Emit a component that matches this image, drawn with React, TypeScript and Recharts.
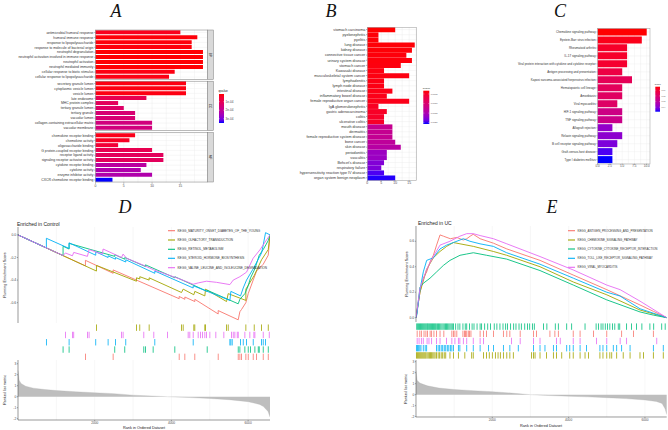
import React from 'react';
import {
  BarChart, Bar, XAxis, YAxis, CartesianGrid, Cell,
  LineChart, Line, ScatterChart, Scatter, AreaChart, Area,
} from 'recharts';

const FONT = '"Liberation Sans", Arial, sans-serif';
const TXT = '#4d4d4d';

// ---------------- Panel A (GO) ----------------
const aBPNames = ['antimicrobial humoral response', 'humoral immune response', 'response to lipopolysaccharide', 'response to molecule of bacterial origin', 'neutrophil degranulation', 'neutrophil activation involved in immune response', 'neutrophil activation', 'neutrophil mediated immunity', 'cellular response to biotic stimulus', 'cellular response to lipopolysaccharide'];
const aBPCounts = [15, 18, 17, 17, 19, 19, 19, 19, 14, 13];
const aBPQ = [3.0e-5, 1.5e-5, 1.6e-5, 1.6e-5, 1.2e-5, 1.2e-5, 1.2e-5, 1.2e-5, 2.0e-5, 2.2e-5];

const aCCNames = ['secretory granule lumen', 'cytoplasmic vesicle lumen', 'vesicle lumen', 'late endosome', 'MHC protein complex', 'tertiary granule lumen', 'tertiary granule', 'vacuolar lumen', 'collagen-containing extracellular matrix', 'vacuolar membrane'];
const aCCCounts = [16, 16, 16, 9, 4, 5, 7, 7, 10, 10];
const aCCQ = [2.0e-5, 2.0e-5, 2.0e-5, 9.5e-5, 1.12e-4, 1.29e-4, 1.46e-4, 1.46e-4, 1.63e-4, 1.63e-4];

const aMFNames = ['chemokine receptor binding', 'chemokine activity', 'oligosaccharide binding', 'G protein-coupled receptor binding', 'receptor ligand activity', 'signaling receptor activator activity', 'cytokine receptor binding', 'cytokine activity', 'enzyme inhibitor activity', 'CXCR chemokine receptor binding'];
const aMFCounts = [7, 6, 4, 10, 12, 12, 9, 8, 10, 3];
const aMFQ = [2.7e-5, 3.7e-5, 6.1e-5, 9.5e-5, 1.12e-4, 1.12e-4, 2.14e-4, 2.31e-4, 2.31e-4, 3.5e-4];

const aQDomain = [1e-5, 3.5e-4];
const aLegendTicks = [1e-4, 2e-4, 3e-4];
const aLegendLabels = ['1e-04', '2e-04', '3e-04'];
const aXTicks = [0, 5, 10, 15];

// ---------------- Panel B (DO) ----------------
const bNames = ['stomach carcinoma', 'pyelonephritis', 'pyelitis', 'lung disease', 'kidney disease', 'connective tissue cancer', 'urinary system disease', 'stomach cancer', 'Kawasaki disease', 'musculoskeletal system cancer', 'lymphadenitis', 'lymph node disease', 'intestinal disease', 'inflammatory bowel disease', 'female reproductive organ cancer', 'IgA glomerulonephritis', 'gastric adenocarcinoma', 'colitis', 'ulcerative colitis', 'mouth disease', 'dermatitis', 'female reproductive system disease', 'bone cancer', 'skin disease', 'periodontitis', 'vasculitis', "Behcet's disease", 'respiratory failure', 'hypersensitivity reaction type IV disease', 'organ system benign neoplasm'];
const bCounts = [10, 4, 4, 17, 16, 14, 16, 12, 6, 15, 6, 6, 9, 7, 15, 4, 7, 6, 6, 9, 9, 9, 10, 12, 7, 7, 6, 5, 6, 10];
const bQ = [3.3e-4, 3.5e-4, 3.5e-4, 3.5e-4, 3.5e-4, 3.6e-4, 3.6e-4, 3.7e-4, 3.8e-4, 3.8e-4, 3.9e-4, 3.9e-4, 4.0e-4, 4.1e-4, 4.1e-4, 4.6e-4, 4.8e-4, 5.0e-4, 5.0e-4, 1.25e-3, 1.26e-3, 1.27e-3, 1.33e-3, 1.40e-3, 1.62e-3, 1.63e-3, 1.78e-3, 1.80e-3, 1.98e-3, 2.05e-3];
const bQDomain = [3.3e-4, 2.07e-3];
const bLegendTicks = [0.0005, 0.001, 0.0015, 0.002];
const bLegendLabels = ['0.0005', '0.0010', '0.0015', '0.0020'];
const bXTicks = [0, 5, 10, 15];

// ---------------- Panel C (KEGG) ----------------
const cNames = ['Chemokine signaling pathway', 'Epstein-Barr virus infection', 'Rheumatoid arthritis', 'IL-17 signaling pathway', 'Viral protein interaction with cytokine and cytokine receptor', 'Antigen processing and presentation', 'Kaposi sarcoma-associated herpesvirus infection', 'Hematopoietic cell lineage', 'Amoebiasis', 'Viral myocarditis', 'HIF-1 signaling pathway', 'TNF signaling pathway', 'Allograft rejection', 'Relaxin signaling pathway', 'B cell receptor signaling pathway', 'Graft-versus-host disease', 'Type I diabetes mellitus'];
const cCounts = [10, 9, 6, 6, 6, 5, 7, 5, 5, 4, 5, 5, 3, 5, 4, 3, 3];
const cQ = [0.0036, 0.0058, 0.008, 0.008, 0.0089, 0.0125, 0.016, 0.0169, 0.0178, 0.0187, 0.0249, 0.0258, 0.0382, 0.0391, 0.0413, 0.0458, 0.048];
const cQDomain = [0.0036, 0.048];
const cLegendTicks = [0.01, 0.02, 0.03, 0.04];
const cLegendLabels = ['0.01', '0.02', '0.03', '0.04'];
const cXTicks = [0, 2.5, 5, 7.5, 10];

// ---------------- Panel D (GSEA, Control) ----------------
const N_GENES = 6570;
const rankTicks = [2000, 4000, 6000];
const rankGrid = [1000, 2000, 3000, 4000, 5000, 6000];

const dNames = ['KEGG_MATURITY_ONSET_DIABETES_OF_THE_YOUNG', 'KEGG_OLFACTORY_TRANSDUCTION', 'KEGG_RETINOL_METABOLISM', 'KEGG_STEROID_HORMONE_BIOSYNTHESIS', 'KEGG_VALINE_LEUCINE_AND_ISOLEUCINE_DEGRADATION'];
const dRedES = [[0, 0], [1758, -0.274], [1758, -0.225], [2480, -0.34], [2480, -0.31], [4202, -0.565], [4202, -0.545], [4350, -0.57], [4350, -0.55], [4610, -0.59], [4610, -0.57], [5219, -0.70], [5219, -0.67], [5741, -0.752], [5785, -0.68], [5828, -0.66], [5941, -0.60], [6002, -0.52], [6132, -0.40], [6219, -0.32], [6393, -0.26], [6524, -0.18], [6570, 0]];
const dOliveES = [[0, 0], [2045, -0.32], [2045, -0.27], [3088, -0.41], [3088, -0.38], [3175, -0.39], [3175, -0.37], [3419, -0.40], [3419, -0.38], [4263, -0.51], [4306, -0.48], [4584, -0.53], [4610, -0.50], [4871, -0.54], [4889, -0.48], [5437, -0.59], [5480, -0.52], [5941, -0.58], [5941, -0.48], [6158, -0.36], [6350, -0.22], [6524, -0.13], [6570, 0]];
const dGreenES = [[0, 0], [1175, -0.183], [1175, -0.10], [1332, -0.125], [1332, -0.075], [2523, -0.19], [2523, -0.175], [2784, -0.215], [2784, -0.20], [3323, -0.28], [3323, -0.265], [4089, -0.38], [4089, -0.37], [4932, -0.50], [4932, -0.49], [5741, -0.61], [5785, -0.57], [5915, -0.52], [6002, -0.45], [6063, -0.38], [6176, -0.30], [6289, -0.18], [6393, -0.13], [6524, -0.05], [6570, 0]];
const dBlueES = [[0, 0], [740, -0.115], [740, -0.03], [1332, -0.12], [1332, -0.07], [2027, -0.18], [2027, -0.15], [2349, -0.20], [2349, -0.185], [2541, -0.215], [2541, -0.20], [2810, -0.24], [2810, -0.22], [3567, -0.34], [3567, -0.32], [4567, -0.47], [4567, -0.45], [5524, -0.58], [5550, -0.50], [5802, -0.54], [5872, -0.47], [5958, -0.40], [6132, -0.30], [6350, -0.16], [6393, -0.09], [6454, 0.02], [6570, 0]];
const dVioletES = [[0, 0], [1175, -0.183], [1236, -0.16], [1419, -0.185], [1453, -0.155], [1810, -0.19], [1853, -0.13], [2200, -0.17], [2219, -0.125], [2697, -0.20], [2740, -0.17], [2828, -0.206], [3280, -0.27], [3541, -0.31], [4219, -0.39], [4567, -0.437], [4700, -0.425], [4915, -0.41], [5176, -0.42], [5524, -0.44], [5611, -0.40], [5785, -0.37], [5958, -0.33], [6132, -0.206], [6306, -0.133], [6480, -0.044], [6570, 0]];

const dRedHits = [1758, 2480, 4202, 4350, 4610, 5219, 5741, 5785, 5828, 5941, 6002, 6132, 6219, 6393, 6524];
const dOliveHits = [2045, 3088, 3175, 3419, 4263, 4306, 4584, 4610, 4871, 4889, 5437, 5480, 5941, 6158, 6350, 6524];
const dGreenHits = [1175, 1332, 2523, 2784, 3280, 3323, 3523, 4089, 4932, 5741, 5785, 5915, 6002, 6063, 6176, 6263, 6289, 6393, 6524];
const dBlueHits = [740, 1332, 2027, 2349, 2541, 2810, 3567, 4567, 5524, 5550, 5584, 5802, 5872, 5958, 6132, 6350, 6393, 6454];
const dVioletHits = [1236, 1419, 1453, 1810, 1853, 2697, 2740, 3280, 3541, 3897, 4436, 4480, 4567, 4697, 4758, 4810, 4871, 4915, 5002, 5158, 5367, 5567, 5611, 5654, 5715, 5741, 5915, 6045, 6150, 6176, 6393, 6550];

const dRankedRanks = [0, 30, 80, 200, 400, 700, 1000, 1500, 2000, 2500, 3000, 3500, 3900, 4500, 5000, 5500, 6000, 6300, 6400, 6520, 6570];
const dRankedMetric = [2.4, 1.5, 1.2, 0.95, 0.78, 0.65, 0.56, 0.45, 0.36, 0.28, 0.14, 0.06, 0, -0.08, -0.16, -0.27, -0.45, -0.7, -0.9, -1.35, -1.85];

// ---------------- Panel E (GSEA, UC) ----------------
const eNames = ['KEGG_ANTIGEN_PROCESSING_AND_PRESENTATION', 'KEGG_CHEMOKINE_SIGNALING_PATHWAY', 'KEGG_CYTOKINE_CYTOKINE_RECEPTOR_INTERACTION', 'KEGG_TOLL_LIKE_RECEPTOR_SIGNALING_PATHWAY', 'KEGG_VIRAL_MYOCARDITIS'];
const eRedES = [[0, 0], [105, 0.20], [190, 0.31], [280, 0.36], [370, 0.44], [455, 0.49], [540, 0.57], [630, 0.65], [720, 0.64], [900, 0.62], [1070, 0.63], [1240, 0.61], [1330, 0.62], [1420, 0.64], [1500, 0.655], [1680, 0.62], [2030, 0.585], [2380, 0.54], [3250, 0.45], [4120, 0.335], [5000, 0.22], [5870, 0.1], [6220, 0.05], [6570, 0]];
const eOliveES = [[0, 0], [105, 0.20], [280, 0.38], [454, 0.47], [629, 0.52], [804, 0.56], [980, 0.59], [1153, 0.58], [1503, 0.56], [2027, 0.52], [2377, 0.49], [3250, 0.40], [4124, 0.28], [4998, 0.18], [5871, 0.06], [6570, 0]];
const eGreenES = [[0, 0], [20, 0.03], [105, 0.24], [192, 0.27], [367, 0.31], [542, 0.36], [716, 0.41], [891, 0.45], [1153, 0.49], [1328, 0.50], [1503, 0.51], [1852, 0.49], [2377, 0.46], [3250, 0.37], [4124, 0.256], [4998, 0.14], [5871, 0.045], [6221, 0.02], [6570, 0]];
const eBlueES = [[0, 0], [20, 0.02], [105, 0.22], [192, 0.36], [280, 0.45], [454, 0.47], [629, 0.54], [804, 0.57], [979, 0.59], [1153, 0.61], [1241, 0.62], [1415, 0.60], [1678, 0.58], [2027, 0.56], [2377, 0.51], [3250, 0.42], [4124, 0.31], [4998, 0.20], [5347, 0.17], [5871, 0.07], [6570, 0]];
const eVioletES = [[0, 0], [105, 0.23], [190, 0.30], [280, 0.38], [454, 0.48], [630, 0.57], [890, 0.60], [1150, 0.64], [1330, 0.66], [1500, 0.66], [1680, 0.645], [2030, 0.62], [2380, 0.58], [3250, 0.48], [4120, 0.375], [5000, 0.256], [5350, 0.22], [5870, 0.13], [6570, 0]];

const eGreenHits = [20, 45, 70, 95, 120, 140, 165, 190, 215, 240, 265, 290, 310, 335, 360, 385, 410, 430, 455, 480, 505, 530, 560, 590, 620, 650, 680, 710, 740, 770, 800, 830, 860, 890, 920, 950, 980, 1040, 1100, 1150, 1230, 1290, 1330, 1400, 1470, 1520, 1600, 1680, 1720, 1800, 1880, 1950, 2050, 2120, 2200, 2280, 2350, 2400, 2480, 2560, 2620, 2700, 2760, 2850, 2920, 2980, 3050, 3100, 3340, 3430, 3650, 3730, 3950, 4080, 4430, 4720, 4780, 4850, 4900, 4960, 5020, 5080, 5150, 5210, 5300, 5340, 5520, 5650, 5780, 5920, 6130, 6230, 6440, 6530];
const eRedHits = [30, 100, 140, 210, 260, 300, 370, 410, 470, 540, 630, 730, 940, 980, 1020, 1070, 1230, 1270, 1300, 1330, 1370, 1400, 1440, 1680, 1770, 1850, 2030, 2290, 2380, 2460, 2730, 3080, 3160, 3510, 3640, 3730, 4120, 4300, 4650, 5000, 5390, 5700, 6220];
const eVioletHits = [30, 80, 140, 190, 290, 340, 410, 540, 630, 800, 940, 1020, 1110, 1150, 1240, 1330, 1500, 1680, 1770, 2500, 2730, 3080, 3250, 3680, 3780, 4120, 4300, 4730, 5000, 5350, 5520, 6310];
const eBlueHits = [10, 40, 70, 100, 130, 190, 240, 280, 540, 580, 620, 660, 700, 740, 780, 820, 860, 900, 940, 980, 1110, 1150, 1330, 1500, 1680, 1900, 2030, 2290, 2460, 2680, 3080, 3250, 3380, 3600, 3680, 3950, 4030, 4120, 4300, 4470, 4820, 4900, 5000, 5170, 5260, 5390, 5610, 6220, 6480];
const eOliveHits = [10, 35, 60, 85, 110, 135, 160, 185, 210, 235, 260, 290, 320, 350, 380, 410, 440, 470, 500, 540, 580, 620, 660, 700, 740, 780, 890, 980, 1110, 1280, 1460, 1500, 1770, 1850, 1920, 2000, 2080, 2150, 2210, 2290, 2380, 2460, 2550, 3030, 3080, 3120, 3250, 3420, 3600, 3680, 3820, 4030, 4120, 4300, 4430, 4520, 4820, 4900, 5000, 5080, 5130, 5260, 5430, 5610, 5870, 5960, 6220, 6480];

const eRankedRanks = [0, 30, 100, 300, 600, 1000, 1500, 2000, 2500, 3000, 3500, 4000, 4500, 5000, 5500, 6000, 6300, 6450, 6530, 6570];
const eRankedMetric = [2.2, 1.3, 1.05, 0.8, 0.6, 0.47, 0.36, 0.27, 0.14, 0, -0.08, -0.14, -0.2, -0.27, -0.36, -0.48, -0.62, -0.8, -1.3, -1.8];

const esTicksD = [-0.6, -0.4, -0.2, 0];
const esTicksE = [0, 0.2, 0.4, 0.6];
const metricTicks = [-2, -1, 0, 1, 2, 3];

const C_RED = '#F8766D', C_OLIVE = '#A3A500', C_GREEN = '#00BF7D', C_BLUE = '#00B0F6', C_VIOLET = '#E76BF3';

// ---------------- colour scale (Lab interpolation red -> blue) ----------------
const toLin = (c: number) => { c /= 255; return c <= 0.04045 ? c / 12.92 : Math.pow((c + 0.055) / 1.055, 2.4); };
const fromLin = (c: number) => { const v = c <= 0.0031308 ? 12.92 * c : 1.055 * Math.pow(c, 1 / 2.4) - 0.055; return Math.round(Math.min(1, Math.max(0, v)) * 255); };
function rgb2lab(r: number, g: number, b: number) {
  const R = toLin(r), G = toLin(g), B = toLin(b);
  const X = (0.4124 * R + 0.3576 * G + 0.1805 * B) / 0.95047;
  const Y = 0.2126 * R + 0.7152 * G + 0.0722 * B;
  const Z = (0.0193 * R + 0.1192 * G + 0.9505 * B) / 1.08883;
  const f = (t: number) => (t > 0.008856 ? Math.cbrt(t) : 7.787 * t + 16 / 116);
  const fx = f(X), fy = f(Y), fz = f(Z);
  return [116 * fy - 16, 500 * (fx - fy), 200 * (fy - fz)];
}
function lab2hex(L: number, a: number, b: number) {
  const fy = (L + 16) / 116, fx = fy + a / 500, fz = fy - b / 200;
  const fi = (t: number) => { const t3 = t * t * t; return t3 > 0.008856 ? t3 : (t - 16 / 116) / 7.787; };
  const X = fi(fx) * 0.95047, Y = fi(fy), Z = fi(fz) * 1.08883;
  const R = 3.2406 * X - 1.5372 * Y - 0.4986 * Z;
  const G = -0.9689 * X + 1.8758 * Y + 0.0415 * Z;
  const B = 0.0557 * X - 0.204 * Y + 1.057 * Z;
  return '#' + [R, G, B].map((v) => fromLin(v).toString(16).padStart(2, '0')).join('');
}
const LAB_LO = rgb2lab(255, 0, 0);
const LAB_HI = rgb2lab(0, 0, 255);
function gradColor(t: number) {
  const u = Math.max(0, Math.min(1, t));
  return lab2hex(LAB_LO[0] + u * (LAB_HI[0] - LAB_LO[0]), LAB_LO[1] + u * (LAB_HI[1] - LAB_LO[1]), LAB_LO[2] + u * (LAB_HI[2] - LAB_LO[2]));
}
const qColor = (q: number, dom: number[]) => gradColor((q - dom[0]) / (dom[1] - dom[0]));

// category tick that never wraps
const catTick = (size: number) => (p: any) => (
  <text x={p.x} y={p.y} textAnchor="end" dy="0.35em" fontSize={size} fill="#333" fontFamily={FONT}>{p.payload.value}</text>
);

// ---------------- components ----------------
function HBarPanel(props: any) {
  const { left, top, width, axisW, plotH, showX, names, counts, qs, qDom, xDom, xTicks, xGrid, xFmt, labelSize, tickSize } = props;
  const data = names.map((n: string, i: number) => ({ name: n, count: counts[i], q: qs[i] }));
  const xH = showX ? 7.5 : 0;
  return (
    <div style={{ position: 'absolute', left, top, width, height: plotH + xH }}>
      <BarChart width={width} height={plotH + xH} data={data} layout="vertical" margin={{ top: 0, right: 0, bottom: 0, left: 0 }} barCategoryGap="5%">
        <CartesianGrid stroke="#EBEBEB" strokeWidth={0.4} verticalValues={xGrid} />
        <XAxis type="number" domain={xDom} ticks={xTicks} hide={!showX} height={xH || 1} tickFormatter={xFmt}
          tick={{ fontSize: tickSize, fill: TXT, fontFamily: FONT }} tickSize={1.2} tickMargin={0.4} axisLine={false}
          tickLine={{ stroke: '#333', strokeWidth: 0.4 }} interval={0} />
        <YAxis type="category" dataKey="name" width={axisW} interval={0}
          tick={catTick(labelSize)} tickSize={1.2} tickMargin={0.8} axisLine={false}
          tickLine={{ stroke: '#333', strokeWidth: 0.4 }} />
        <Bar dataKey="count" isAnimationActive={false}>
          {data.map((d: any, i: number) => <Cell key={i} fill={qColor(d.q, qDom)} />)}
        </Bar>
      </BarChart>
    </div>
  );
}

function EsPanel(props: any) {
  const { left, top, width, axisW, height, series, yDom, yTicks } = props;
  return (
    <div style={{ position: 'absolute', left, top, width, height }}>
      <LineChart width={width} height={height} margin={{ top: 0, right: 0, bottom: 0, left: 0 }}>
        <CartesianGrid stroke="#EBEBEB" strokeWidth={0.4} horizontal={false} verticalValues={rankGrid} />
        <XAxis type="number" dataKey="rank" domain={[0, N_GENES]} hide allowDataOverflow />
        <YAxis type="number" domain={yDom} ticks={yTicks} width={axisW} allowDataOverflow
          tickFormatter={(v: number) => v.toFixed(1)} tick={{ fontSize: 3.4, fill: TXT, fontFamily: FONT }}
          tickSize={1.2} tickMargin={0.6} axisLine={{ stroke: '#333', strokeWidth: 0.5 }} tickLine={{ stroke: '#333', strokeWidth: 0.4 }} />
        {series.map((s: any) => (
          <Line key={s.name} data={s.es.map((p: number[]) => ({ rank: p[0], es: p[1] }))} dataKey="es" type="linear"
            stroke={s.color} strokeWidth={0.9} dot={false} isAnimationActive={false} />
        ))}
      </LineChart>
    </div>
  );
}

function HitsPanel(props: any) {
  const { left, top, width, plotLeft, height, series } = props;
  return (
    <div style={{ position: 'absolute', left, top, width, height }}>
      <ScatterChart width={width} height={height} margin={{ top: 0, right: 0, bottom: 0, left: plotLeft }}>
        <XAxis type="number" dataKey="rank" domain={[0, N_GENES]} hide />
        <YAxis type="number" dataKey="row" domain={[0, 5]} hide />
        {series.map((s: any) => (
          <Scatter key={s.name} data={s.hits.map((r: number) => ({ rank: r, row: s.row }))} isAnimationActive={false}
            shape={(p: any) => <rect x={p.cx - 0.4} y={p.cy - 3.2} width={0.8} height={6.4} fill={s.color} />} />
        ))}
      </ScatterChart>
    </div>
  );
}

function RankedPanel(props: any) {
  const { left, top, width, axisW, plotH, ranks, metric, yDom } = props;
  const data = ranks.map((r: number, i: number) => ({ rank: r, metric: metric[i] }));
  return (
    <div style={{ position: 'absolute', left, top, width, height: plotH + 8 }}>
      <AreaChart width={width} height={plotH + 8} data={data} margin={{ top: 0, right: 0, bottom: 0, left: 0 }}>
        <CartesianGrid stroke="#EBEBEB" strokeWidth={0.4} horizontal={false} verticalValues={rankGrid} />
        <XAxis type="number" dataKey="rank" domain={[0, N_GENES]} ticks={rankTicks} height={8} interval={0}
          tick={{ fontSize: 3.2, fill: TXT, fontFamily: FONT }} tickSize={1.2} tickMargin={0.4}
          axisLine={{ stroke: '#333', strokeWidth: 0.5 }} tickLine={{ stroke: '#333', strokeWidth: 0.4 }} />
        <YAxis type="number" domain={yDom} ticks={metricTicks} width={axisW} allowDataOverflow interval={0}
          tick={{ fontSize: 3.2, fill: TXT, fontFamily: FONT }} tickSize={1.2} tickMargin={0.6}
          axisLine={{ stroke: '#333', strokeWidth: 0.5 }} tickLine={{ stroke: '#333', strokeWidth: 0.4 }} />
        <Area dataKey="metric" type="linear" fill="#BEBEBE" fillOpacity={1} stroke="#B0B0B0" strokeWidth={0.3} isAnimationActive={false} />
      </AreaChart>
    </div>
  );
}

function ColorBar(props: any) {
  const { id, x, y, w, h, dom, ticks, labels, title, titleSize, labelSize } = props;
  const stops = [0, 0.1, 0.2, 0.3, 0.4, 0.5, 0.6, 0.7, 0.8, 0.9, 1];
  return (
    <g>
      <defs>
        <linearGradient id={id} x1="0" y1="0" x2="0" y2="1">
          {stops.map((s) => <stop key={s} offset={s} stopColor={gradColor(s)} />)}
        </linearGradient>
      </defs>
      <text x={x - 0.5} y={y - 2} fontSize={titleSize} fill="#222" fontFamily={FONT}>{title}</text>
      <rect x={x} y={y} width={w} height={h} fill={`url(#${id})`} />
      {ticks.map((t: number, i: number) => {
        const ty = y + ((t - dom[0]) / (dom[1] - dom[0])) * h;
        return (
          <g key={i}>
            <line x1={x} x2={x + w * 0.2} y1={ty} y2={ty} stroke="#fff" strokeWidth={0.3} />
            <line x1={x + w * 0.8} x2={x + w} y1={ty} y2={ty} stroke="#fff" strokeWidth={0.3} />
            <text x={x + w + 1.5} y={ty} dy="0.35em" fontSize={labelSize} fill={TXT} fontFamily={FONT}>{labels[i]}</text>
          </g>
        );
      })}
    </g>
  );
}

function GseaLegend(props: any) {
  const { x, ys, series, size } = props;
  return (
    <g>
      {series.map((s: any, i: number) => (
        <g key={s.name}>
          <line x1={x} x2={x + 7} y1={ys[i]} y2={ys[i]} stroke={s.color} strokeWidth={1.1} />
          <text x={x + 9.5} y={ys[i]} dy="0.35em" fontSize={size} fill="#333" fontFamily={FONT}>{s.name}</text>
        </g>
      ))}
    </g>
  );
}

export default function App() {
  const aFacets = [
    { label: 'BP', names: aBPNames, counts: aBPCounts, qs: aBPQ, top: 30 },
    { label: 'CC', names: aCCNames, counts: aCCCounts, qs: aCCQ, top: 81.2 },
    { label: 'MF', names: aMFNames, counts: aMFCounts, qs: aMFQ, top: 132.5 },
  ];
  const facetH = 49.5;
  const dSeries = [
    { name: dNames[0], color: C_RED, es: dRedES, hits: dRedHits, row: 0.5 },
    { name: dNames[1], color: C_OLIVE, es: dOliveES, hits: dOliveHits, row: 4.5 },
    { name: dNames[2], color: C_GREEN, es: dGreenES, hits: dGreenHits, row: 1.5 },
    { name: dNames[3], color: C_BLUE, es: dBlueES, hits: dBlueHits, row: 2.5 },
    { name: dNames[4], color: C_VIOLET, es: dVioletES, hits: dVioletHits, row: 3.5 },
  ];
  const eSeries = [
    { name: eNames[0], color: C_RED, es: eRedES, hits: eRedHits, row: 3.5 },
    { name: eNames[1], color: C_OLIVE, es: eOliveES, hits: eOliveHits, row: 0.5 },
    { name: eNames[2], color: C_GREEN, es: eGreenES, hits: eGreenHits, row: 4.5 },
    { name: eNames[3], color: C_BLUE, es: eBlueES, hits: eBlueHits, row: 1.5 },
    { name: eNames[4], color: C_VIOLET, es: eVioletES, hits: eVioletHits, row: 2.5 },
  ];
  const minorA = [0, 2.5, 5, 7.5, 10, 12.5, 15, 17.5];
  const minorC = [0, 1.25, 2.5, 3.75, 5, 6.25, 7.5, 8.75, 10];

  return (
    <div style={{ position: 'absolute', left: 0, top: 0, width: 668, height: 430, background: '#fff', overflow: 'hidden', fontFamily: FONT }}>
      {aFacets.map((f, i) => (
        <HBarPanel key={f.label} left={0} top={f.top} width={207.5} axisW={95.5} plotH={facetH} showX={i === 2}
          names={f.names} counts={f.counts} qs={f.qs} qDom={aQDomain} xDom={[0, 19.8]} xTicks={aXTicks} xGrid={minorA}
          labelSize={3.4} tickSize={3.4} />
      ))}
      <HBarPanel left={215} top={27.3} width={201.7} axisW={152.3} plotH={153.4} showX
        names={bNames} counts={bCounts} qs={bQ} qDom={bQDomain} xDom={[0, 17.7]} xTicks={bXTicks} xGrid={minorA}
        labelSize={3.7} tickSize={3.4} />
      <HBarPanel left={445} top={28.3} width={205} axisW={152.7} plotH={135.7} showX
        names={cNames} counts={cCounts} qs={cQ} qDom={cQDomain} xDom={[0, 10.67]} xTicks={cXTicks} xGrid={minorC}
        xFmt={(v: number) => v.toFixed(1)} labelSize={3.0} tickSize={3.0} />

      <EsPanel left={0} top={227} width={270} axisW={18} height={96} series={dSeries} yDom={[-0.78, 0.07]} yTicks={esTicksD} />
      <HitsPanel left={0} top={323.5} width={270} plotLeft={18} height={36.5} series={dSeries} />
      <RankedPanel left={0} top={360} width={270} axisW={18} plotH={60} ranks={dRankedRanks} metric={dRankedMetric} yDom={[-2.12, 3.34]} />

      <EsPanel left={400} top={226} width={266.7} axisW={16} height={96} series={eSeries} yDom={[-0.034, 0.72]} yTicks={esTicksE} />
      <HitsPanel left={400} top={322.8} width={266.7} plotLeft={16} height={36} series={eSeries} />
      <RankedPanel left={400} top={360} width={266.7} axisW={16} plotH={57} ranks={eRankedRanks} metric={eRankedMetric} yDom={[-2.03, 3.15]} />

      <svg width={668} height={430} style={{ position: 'absolute', left: 0, top: 0, pointerEvents: 'none' }}>
        {[['A', 116, 17], ['B', 331, 17], ['C', 560, 17], ['D', 125, 213], ['E', 552, 213]].map(([t, x, y]) => (
          <text key={t as string} x={x as number} y={y as number} textAnchor="middle" fontSize={18} fontStyle="italic"
            fontFamily='"Liberation Serif", "Times New Roman", serif' fill="#111">{t}</text>
        ))}
        {aFacets.map((f) => (
          <g key={f.label}>
            <rect x={95.5} y={f.top} width={112} height={facetH} fill="none" stroke="#7f7f7f" strokeWidth={0.5} />
            <rect x={207.5} y={f.top} width={6} height={facetH} fill="#D9D9D9" stroke="#7f7f7f" strokeWidth={0.5} />
            <text x={210.5} y={f.top + facetH / 2} textAnchor="middle" dy="0.35em" fontSize={3} fill="#1a1a1a" fontFamily={FONT}
              transform={`rotate(90 210.5 ${f.top + facetH / 2})`}>{f.label}</text>
          </g>
        ))}
        <ColorBar id="gA" x={219} y={94} w={5} h={29} dom={aQDomain} ticks={aLegendTicks} labels={aLegendLabels} title="qvalue" titleSize={3.2} labelSize={3.1} />
        <rect x={367.3} y={27.3} width={49.4} height={153.4} fill="none" stroke="#9a9a9a" strokeWidth={0.5} />
        <ColorBar id="gB" x={423.3} y={90.7} w={6} h={33.3} dom={bQDomain} ticks={bLegendTicks} labels={bLegendLabels} title="qvalue" titleSize={2.5} labelSize={2.2} />
        <rect x={597.7} y={28.3} width={52.3} height={135.7} fill="none" stroke="#9a9a9a" strokeWidth={0.5} />
        <ColorBar id="gC" x={655.3} y={86.7} w={4.7} h={25} dom={cQDomain} ticks={cLegendTicks} labels={cLegendLabels} title="qvalue" titleSize={2.1} labelSize={1.9} />

        <text x={17} y={226} fontSize={5} fill="#222" fontFamily={FONT}>Enriched in Control</text>
        <text x={5} y={275} textAnchor="middle" dy="0.35em" fontSize={3.8} fill="#222" fontFamily={FONT} transform="rotate(-90 5 275)">Running Enrichment Score</text>
        <text x={5} y={390} textAnchor="middle" dy="0.35em" fontSize={3.8} fill="#222" fontFamily={FONT} transform="rotate(-90 5 390)">Ranked list metric</text>
        <text x={144} y={429.3} textAnchor="middle" fontSize={3.8} fill="#222" fontFamily={FONT}>Rank in Ordered Dataset</text>
        <GseaLegend x={168} ys={[230.7, 240, 249.3, 258.3, 267.7]} series={dSeries} size={3.1} />

        <text x={418} y={225} fontSize={5} fill="#222" fontFamily={FONT}>Enriched in UC</text>
        <text x={406.5} y={274} textAnchor="middle" dy="0.35em" fontSize={3.8} fill="#222" fontFamily={FONT} transform="rotate(-90 406.5 274)">Running Enrichment Score</text>
        <text x={405.5} y={389} textAnchor="middle" dy="0.35em" fontSize={3.8} fill="#222" fontFamily={FONT} transform="rotate(-90 405.5 389)">Ranked list metric</text>
        <text x={541} y={427} textAnchor="middle" fontSize={3.8} fill="#222" fontFamily={FONT}>Rank in Ordered Dataset</text>
        <GseaLegend x={568} ys={[230.7, 240, 249, 258.3, 267.3]} series={eSeries} size={2.9} />
      </svg>
    </div>
  );
}
